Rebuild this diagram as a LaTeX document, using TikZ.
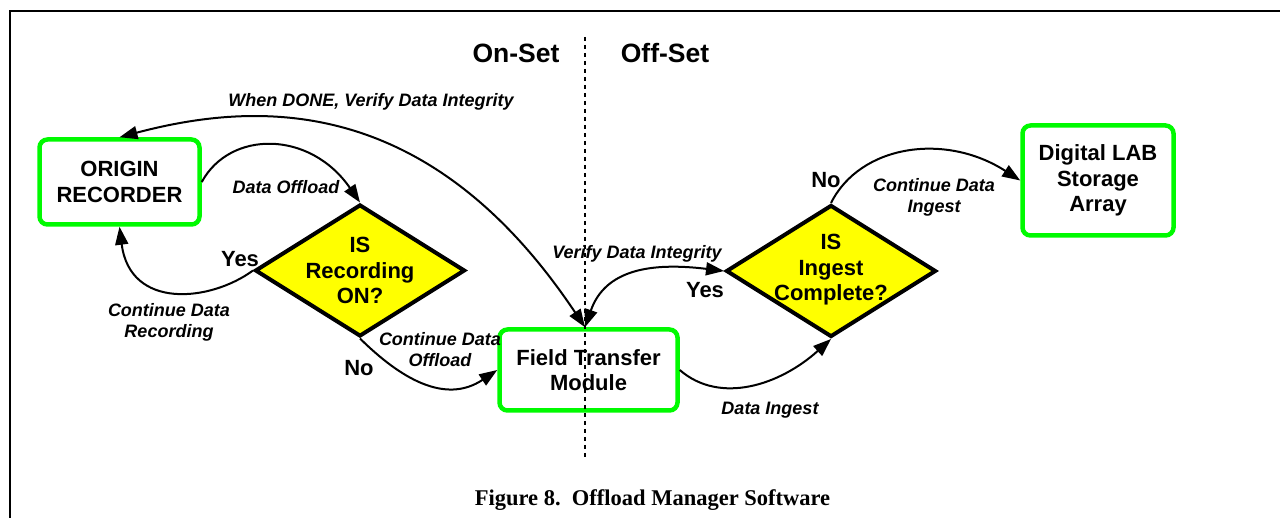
\documentclass[tikz,border=0pt]{standalone}
\usepackage{fontspec}
\setmainfont{Liberation Sans}
\newfontfamily\capfont{Liberation Serif}
\usetikzlibrary{shapes.geometric,arrows.meta}

\definecolor{boxgreen}{RGB}{0,250,0}
\definecolor{diayellow}{RGB}{255,255,0}

\newcommand\boxfont{\bfseries\fontsize{22}{25.5}\selectfont}
\newcommand\lblfont{\bfseries\itshape\fontsize{18}{21}\selectfont}
\newcommand\ynfont{\bfseries\fontsize{22}{25}\selectfont}
\newcommand\sidefont{\bfseries\fontsize{26.5}{30}\selectfont}

\begin{document}
\begin{tikzpicture}[x=1pt,y=-1pt,
  stagebox/.style={draw=boxgreen, line width=4.5pt, rounded corners=8pt,
    align=center, font=\boxfont, inner sep=0pt},
  decision/.style={diamond, draw=black, line width=4pt, fill=diayellow,
    inner sep=0pt, minimum width=210pt, minimum height=132pt},
  dtext/.style={align=center, font=\boxfont, inner sep=0pt},
  lbl/.style={align=center, font=\lblfont, inner sep=0pt},
  yn/.style={font=\ynfont, inner sep=0pt},
  side/.style={font=\sidefont, anchor=base, inner sep=0pt},
  flow/.style={line width=2pt, >={Triangle[length=18pt,width=13pt]}},
]
\useasboundingbox (0,0) rectangle (1280,518);

% frame
\draw[line width=2.2pt] (10,520) -- (10,11) -- (1282,11);

% stages
\node[stagebox, minimum width=160pt, minimum height=85pt] (orig) at (119.5,182) {ORIGIN\\RECORDER};
\node[stagebox, minimum width=178pt, minimum height=81pt] (ftm) at (588.5,370) {Field Transfer\\Module};
\node[stagebox, minimum width=151pt, minimum height=110pt] (dlab) at (1098,180.5) {Digital LAB\\Storage\\Array};

% decisions
\node[decision] (rec) at (360,270.5) {};
\node[dtext] (rectext) at (rec.center) {IS\\Recording\\ON?};
\node[decision] (ing) at (831,271) {};
\node[dtext] (ingtext) at ([yshift=1pt]ing.center) {IS\\Ingest\\Complete?};

% on-set / off-set divider
\coordinate (divtop) at (585,37);
\coordinate (divbot) at (585,457);
\draw[line width=2.4pt, dash pattern=on 4pt off 4pt] (divtop) -- (divbot);
\node[side] (onset) at (516,63) {On-Set};
\node[side] (offset) at (665,63) {Off-Set};

% both verify arrows meet on the divider above the transfer module
\coordinate (ftmtop) at ([xshift=-3.5pt]ftm.north);

% connectors
\draw[flow, <->] (ftmtop) .. controls (430,95) and (260,100) .. (orig.north);
\draw[flow, ->] (orig.east) .. controls (230,130) and (310,130) .. (rec.north);
\draw[flow, ->] (rec.west) .. controls (210,302) and (130,310) .. (orig.south);
\draw[flow, ->] (rec.south) .. controls (400,378) and (445,405) .. (ftm.west);
\draw[flow, <->] (ftmtop) .. controls (605,270) and (650,262) .. (ing.west);
\draw[flow, ->] (ftm.east) .. controls (720,405) and (780,385) .. (ing.south);
\draw[flow, ->] (ing.north) .. controls (860,145) and (945,132) .. (dlab.west);

% connector labels
\node[lbl] (lverify) at (371,102) {When DONE, Verify Data Integrity};
\node[lbl] (loffload) at (286,187) {Data Offload};
\node[lbl] (lrecord) at (169,322) {Continue Data\\Recording};
\node[yn] (recyes) at (240,259) {Yes};
\node[lbl] (lcontoff) at (440,350) {Continue Data\\Offload};
\node[yn] (recno) at (359,368) {No};
\node[lbl] (lverify2) at (637,254) {Verify Data Integrity};
\node[yn] (ingyes) at (705,290) {Yes};
\node[lbl] (lingest) at (770,410) {Data Ingest};
\node[yn] (ingno) at (826,180) {No};
\node[lbl] (lcontin) at (934,197) {Continue Data\\Ingest};

% caption
\node[font=\capfont\bfseries\fontsize{22.5}{27}\selectfont, anchor=base, inner sep=0pt] (caption) at (652.5,505) {Figure 8.\ \ Offload Manager Software};
\end{tikzpicture}
\end{document}
